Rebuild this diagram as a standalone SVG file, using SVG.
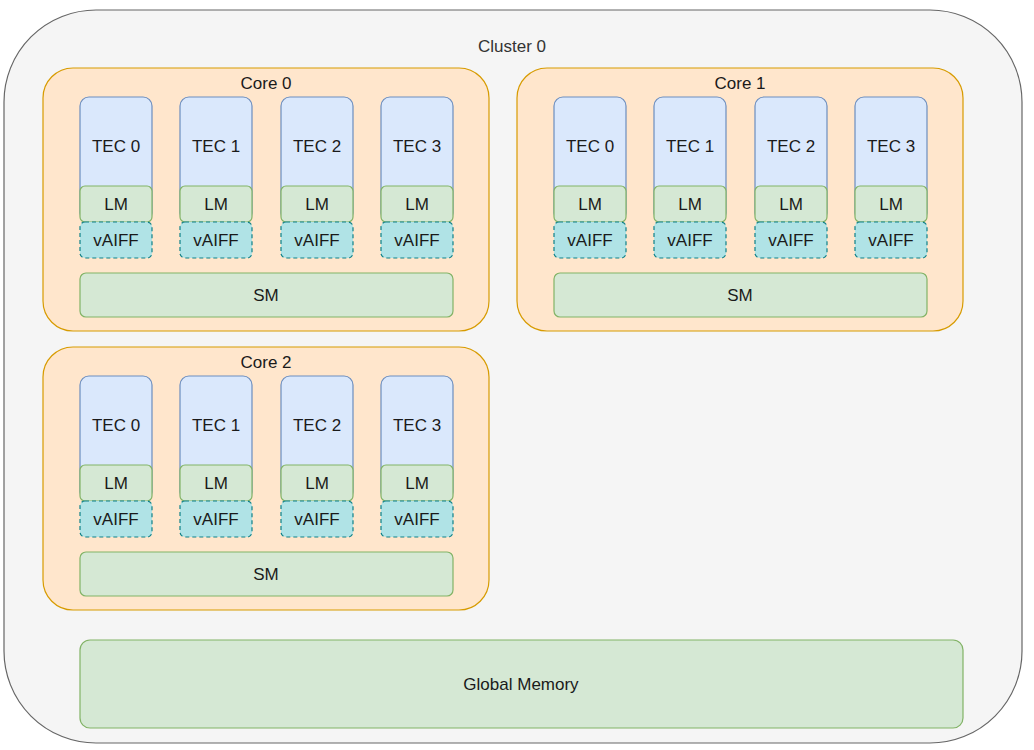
<svg xmlns="http://www.w3.org/2000/svg" xmlns:xlink="http://www.w3.org/1999/xlink" width="1034" height="750" viewBox="0 0 1034 750">
<style>
text{font-family:"Liberation Sans",Arial,sans-serif;font-size:17px;fill:#1a1a1a;text-anchor:middle}
.cl{fill:#f5f5f5;stroke:#666666;stroke-width:1.2}
.core{fill:#ffe6cc;stroke:#d79b00;stroke-width:1.2}
.tec{fill:#dae8fc;stroke:#6c8ebf;stroke-width:1.2}
.grn{fill:#d5e8d4;stroke:#82b366;stroke-width:1.2}
.vaiff{fill:#b0e3e6;stroke:#0e8088;stroke-width:1.2;stroke-dasharray:4 3}
.gray{fill:#333333}
</style>
<defs>
<g id="tecunit">
<rect class="tec" x="0" y="0" width="72" height="125" rx="9"/>
<rect class="grn" x="0" y="89" width="72" height="36" rx="5"/>
<rect class="vaiff" x="0" y="125" width="72" height="36" rx="5"/>
<text x="36" y="112.5">LM</text>
<text x="36" y="149">vAIFF</text>
</g>
</defs>
<g id="cluster0">
<rect class="cl" x="4" y="10" width="1018" height="733" rx="92"/>
<text class="gray" x="512" y="52">Cluster 0</text>
</g>
<g id="core0">
<rect class="core" x="43" y="68" width="446" height="263" rx="30"/>
<text x="266" y="89">Core 0</text>
<g id="core0-tec0" transform="translate(80,97)"><use xlink:href="#tecunit"/><text x="36" y="55">TEC 0</text></g>
<g id="core0-tec1" transform="translate(180,97)"><use xlink:href="#tecunit"/><text x="36" y="55">TEC 1</text></g>
<g id="core0-tec2" transform="translate(281,97)"><use xlink:href="#tecunit"/><text x="36" y="55">TEC 2</text></g>
<g id="core0-tec3" transform="translate(381,97)"><use xlink:href="#tecunit"/><text x="36" y="55">TEC 3</text></g>
<g id="core0-sm"><rect class="grn" x="80" y="273" width="373" height="44" rx="6"/><text x="266" y="301">SM</text></g>
</g>
<g id="core1">
<rect class="core" x="517" y="68" width="446" height="263" rx="30"/>
<text x="740" y="89">Core 1</text>
<g id="core1-tec0" transform="translate(554,97)"><use xlink:href="#tecunit"/><text x="36" y="55">TEC 0</text></g>
<g id="core1-tec1" transform="translate(654,97)"><use xlink:href="#tecunit"/><text x="36" y="55">TEC 1</text></g>
<g id="core1-tec2" transform="translate(755,97)"><use xlink:href="#tecunit"/><text x="36" y="55">TEC 2</text></g>
<g id="core1-tec3" transform="translate(855,97)"><use xlink:href="#tecunit"/><text x="36" y="55">TEC 3</text></g>
<g id="core1-sm"><rect class="grn" x="554" y="273" width="373" height="44" rx="6"/><text x="740" y="301">SM</text></g>
</g>
<g id="core2">
<rect class="core" x="43" y="347" width="446" height="263" rx="30"/>
<text x="266" y="368">Core 2</text>
<g id="core2-tec0" transform="translate(80,376)"><use xlink:href="#tecunit"/><text x="36" y="55">TEC 0</text></g>
<g id="core2-tec1" transform="translate(180,376)"><use xlink:href="#tecunit"/><text x="36" y="55">TEC 1</text></g>
<g id="core2-tec2" transform="translate(281,376)"><use xlink:href="#tecunit"/><text x="36" y="55">TEC 2</text></g>
<g id="core2-tec3" transform="translate(381,376)"><use xlink:href="#tecunit"/><text x="36" y="55">TEC 3</text></g>
<g id="core2-sm"><rect class="grn" x="80" y="552" width="373" height="44" rx="6"/><text x="266" y="580">SM</text></g>
</g>
<g id="global-memory">
<rect class="grn" x="80" y="640" width="883" height="88" rx="10"/>
<text x="521" y="690">Global Memory</text>
</g>
<g id="connectors"></g>
</svg>
